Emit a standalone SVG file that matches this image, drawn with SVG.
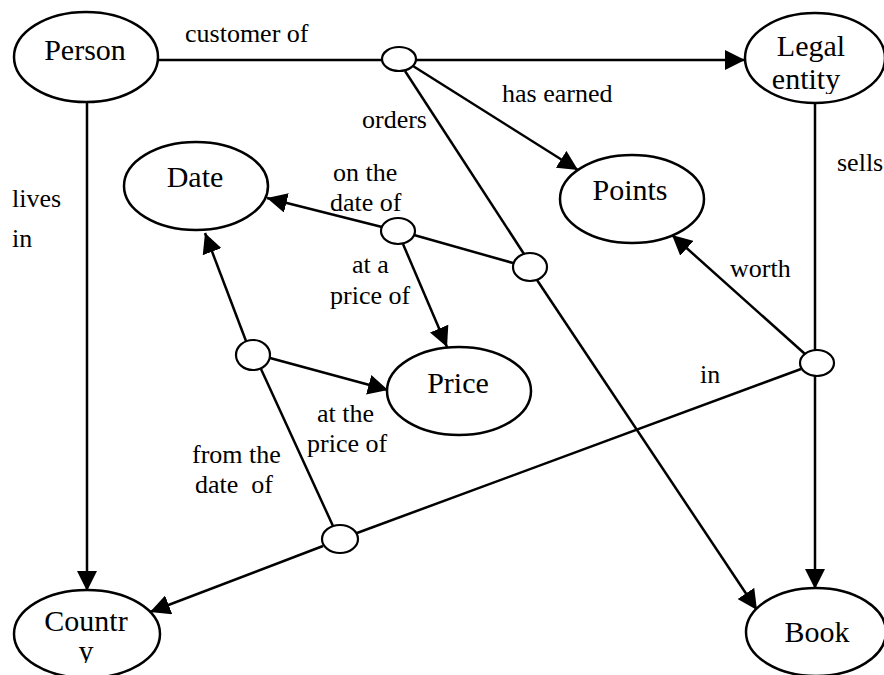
<svg xmlns="http://www.w3.org/2000/svg" width="884" height="675" viewBox="0 0 884 675">
<style>
.node{fill:#fff;stroke:#000;stroke-width:2.5}
.rel{fill:#fff;stroke:#000;stroke-width:2.2}
text{font-family:'Liberation Serif','Times New Roman','DejaVu Serif',serif;fill:#000}
.nt{font-size:30px;text-anchor:middle}
.lb{font-size:26px}
#edges line{stroke:#000;stroke-width:2.5;fill:none}
.arr{marker-end:url(#ah)}
</style>
<defs>
<marker id="ah" markerUnits="userSpaceOnUse" markerWidth="20" markerHeight="20" refX="20" refY="10" orient="auto">
<path d="M0,0 L20,10 L0,20 z" fill="#000"/>
</marker>
<clipPath id="clipLegal"><rect x="740" y="0" width="144" height="94"/></clipPath>
<clipPath id="clipCountry"><rect x="0" y="590" width="170" height="73"/></clipPath>
</defs>
<rect width="884" height="675" fill="#fff"/>
<g id="edges">
<line x1="158" y1="60" x2="383" y2="60"/>
<line class="arr" x1="416" y1="60" x2="745" y2="60"/>
<line class="arr" x1="413" y1="66" x2="578" y2="170"/>
<line x1="405" y1="71" x2="524" y2="254"/>
<line class="arr" x1="537" y1="280" x2="757" y2="610"/>
<line class="arr" x1="87" y1="102" x2="87" y2="591"/>
<line x1="815" y1="103" x2="815" y2="352"/>
<line class="arr" x1="815" y1="375" x2="815" y2="589"/>
<line class="arr" x1="805" y1="354" x2="672" y2="235"/>
<line x1="801" y1="369" x2="357" y2="533"/>
<line class="arr" x1="323" y1="546" x2="150" y2="612"/>
<line x1="513" y1="263" x2="414" y2="235"/>
<line class="arr" x1="382" y1="227" x2="267" y2="198"/>
<line class="arr" x1="403" y1="244" x2="447" y2="347"/>
<line class="arr" x1="270" y1="358" x2="388" y2="390"/>
<line class="arr" x1="246" y1="341" x2="205" y2="233"/>
<line x1="261" y1="369" x2="333" y2="526"/>
<text class="lb" x="185" y="42">customer of</text>
<text class="lb" x="362" y="128">orders</text>
<text class="lb" x="502" y="102">has earned</text>
<text class="lb" x="837" y="171">sells</text>
<text class="lb" x="12" y="207">lives</text>
<text class="lb" x="12" y="247">in</text>
<text class="lb" x="333" y="181">on the</text>
<text class="lb" x="330" y="211">date of</text>
<text class="lb" x="352" y="273">at a</text>
<text class="lb" x="330" y="304">price of</text>
<text class="lb" x="730" y="277">worth</text>
<text class="lb" x="700" y="383">in</text>
<text class="lb" x="317" y="422">at the</text>
<text class="lb" x="307" y="452">price of</text>
<text class="lb" x="192" y="463">from the</text>
<text class="lb" x="195" y="493" xml:space="preserve">date  of</text>
</g>
<g id="person"><ellipse class="node" cx="86" cy="57" rx="72" ry="45"/><text class="nt" x="85" y="60">Person</text></g>
<g id="legal-entity"><ellipse class="node" cx="815" cy="58" rx="70" ry="45"/><g clip-path="url(#clipLegal)"><text class="nt" x="811" y="56">Legal</text><text class="nt" x="806" y="89">entity</text></g></g>
<g id="date"><ellipse class="node" cx="196" cy="186" rx="72" ry="44"/><text class="nt" x="195" y="187">Date</text></g>
<g id="points"><ellipse class="node" cx="632" cy="199" rx="72" ry="44"/><text class="nt" x="630" y="200">Points</text></g>
<g id="price"><ellipse class="node" cx="459" cy="391" rx="72" ry="44"/><text class="nt" x="458" y="393">Price</text></g>
<g id="country"><ellipse class="node" cx="87" cy="634" rx="73" ry="44"/><g clip-path="url(#clipCountry)"><text class="nt" x="86" y="631">Countr</text><text class="nt" x="86" y="661">y</text></g></g>
<g id="book"><ellipse class="node" cx="816" cy="632" rx="70" ry="44"/><text class="nt" x="817" y="642">Book</text></g>
<g id="r-customer"><ellipse class="rel" cx="399" cy="59" rx="17" ry="12"/></g>
<g id="r-date"><ellipse class="rel" cx="398" cy="231" rx="17" ry="13"/></g>
<g id="r-orders"><ellipse class="rel" cx="530" cy="267" rx="17" ry="14"/></g>
<g id="r-from"><ellipse class="rel" cx="253" cy="355" rx="17" ry="15"/></g>
<g id="r-sells"><ellipse class="rel" cx="817" cy="363" rx="17" ry="13"/></g>
<g id="r-bottom"><ellipse class="rel" cx="340" cy="539" rx="18" ry="14"/></g>
</svg>
